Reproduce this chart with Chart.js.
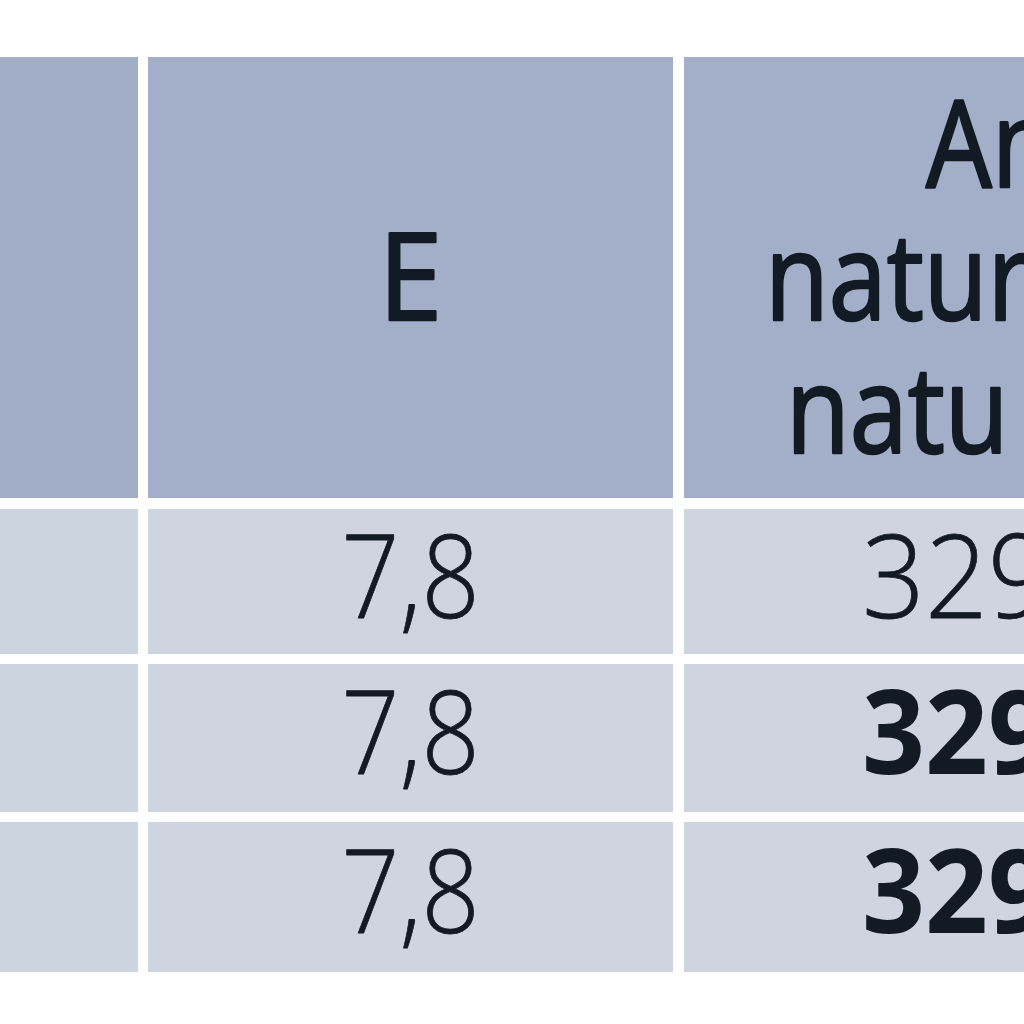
<!DOCTYPE html>
<html><head><meta charset="utf-8">
<script src="https://cdn.jsdelivr.net/npm/chart.js@4.4.1/dist/chart.umd.min.js"></script>
<style>html,body{margin:0;padding:0;background:#fff;overflow:hidden}#wrap{width:1024px;height:1024px;position:relative}</style>
</head><body><div id="wrap"><canvas id="c"></canvas></div>
<script>
// ---- data ----
const categories = ["", "E", "Anteil naturnaher natu"];
const headerLines = [[], ["E"], ["Anteil", "naturnaher", "natu"]];
const rowLabels = ["", "", ""];
const valuesE = [7.8, 7.8, 7.8];
const valuesAnteil = [329, 329, 329];
const boldAnteil = [false, true, true];

// ---- layout (table geometry in scale units) ----
const colEdges = [[-20, 138], [148, 673], [684, 1100]];
const rowEdges = [[57, 498], [509, 654], [664, 812], [822, 972]];
const headerColors = ["#a1aec6", "#a3afc8", "#a3afc8"];
const bodyColors = ["#ccd5df", "#ced5e1", "#ced5e1"];
const col2LineX = [926, 765, 786];
const col2ValueX = 862;
const textColor = "#121a24";
const FONT = "'Open Sans', 'Noto Sans', sans-serif";

function fmt(v){ return String(v).replace('.', ','); }

function drawText(ctx, txt, x, y, weight, size, align, sx, stroke){
  ctx.save();
  ctx.translate(x, y);
  ctx.scale(sx, 1);
  ctx.font = weight + " " + size + "px " + FONT;
  ctx.fillStyle = textColor;
  ctx.strokeStyle = textColor;
  ctx.textAlign = align;
  ctx.textBaseline = "alphabetic";
  ctx.fillText(txt, 0, 0);
  if (stroke) { ctx.lineWidth = stroke; ctx.lineJoin = "round"; ctx.strokeText(txt, 0, 0); }
  ctx.restore();
}

const tablePlugin = {
  id: "table",
  beforeDatasetsDraw(chart){
    const ctx = chart.ctx, xs = chart.scales.x, ys = chart.scales.y;
    const X = v => xs.getPixelForValue(v), Y = v => ys.getPixelForValue(v);
    // cells
    rowEdges.forEach((r, ri) => {
      colEdges.forEach((c, ci) => {
        ctx.fillStyle = ri === 0 ? headerColors[ci] : bodyColors[ci];
        const x0 = X(c[0]), x1 = X(c[1]), y0 = Y(r[0]), y1 = Y(r[1]);
        ctx.fillRect(x0, y0, x1 - x0, y1 - y0);
      });
    });
    // header texts
    const hc = (Y(rowEdges[0][0]) + Y(rowEdges[0][1])) / 2;
    const lh = 133;
    const eLines = headerLines[1];
    eLines.forEach((t, i) => {
      const cx = (X(colEdges[1][0]) + X(colEdges[1][1])) / 2;
      drawText(ctx, t, cx, hc + 42 + (i - (eLines.length - 1) / 2) * lh, 400, 121, "center", 0.95, 2.5);
    });
    const aLines = headerLines[2];
    aLines.forEach((t, i) => {
      drawText(ctx, t, X(col2LineX[i]), hc + 42 + (i - (aLines.length - 1) / 2) * lh, 400, 121, "left", 0.86, 2.5);
    });
    // body
    for (let i = 0; i < valuesE.length; i++){
      const r = rowEdges[i + 1];
      const base = (Y(r[0]) + Y(r[1])) / 2 + 36;
      const cx0 = (X(colEdges[0][0]) + X(colEdges[0][1])) / 2;
      drawText(ctx, rowLabels[i], cx0, base, 300, 116, "center", 0.9, 0);
      const cx1 = (X(colEdges[1][0]) + X(colEdges[1][1])) / 2;
      drawText(ctx, fmt(valuesE[i]), cx1, base, 300, 116, "center", 0.88, 0.8);
      drawText(ctx, fmt(valuesAnteil[i]), X(col2ValueX), base, boldAnteil[i] ? 700 : 300, 116, "left", 0.95, boldAnteil[i] ? 0 : 0.8);
    }
  }
};

new Chart(document.getElementById("c"), {
  type: "scatter",
  data: { datasets: [{ data: [], label: categories.join(" ") }] },
  options: {
    responsive: true,
    maintainAspectRatio: false,
    animation: false,
    layout: { padding: 0 },
    plugins: { legend: { display: false }, tooltip: { enabled: false } },
    scales: {
      x: { type: "linear", min: 0, max: 1024, display: false },
      y: { type: "linear", min: 0, max: 1024, reverse: true, display: false }
    }
  },
  plugins: [tablePlugin]
});
</script></body></html>
